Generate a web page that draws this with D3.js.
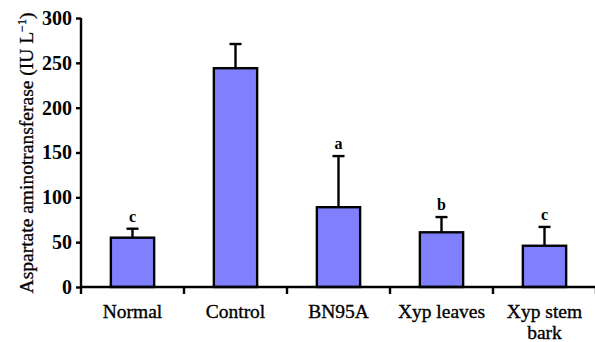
<!DOCTYPE html>
<html>
<head>
<meta charset="utf-8">
<script src="https://cdn.jsdelivr.net/npm/d3@7/dist/d3.min.js"></script>
<style>
  body { margin: 0; background: #fff; }
  svg text { font-family: "Liberation Serif", "Times New Roman", serif; }
</style>
</head>
<body>
<div id="chart"></div>
<script>
const categories = ['Normal', 'Control', 'BN95A', 'Xyp leaves', 'Xyp stem bark'];
const means = [55, 244, 89, 61, 46];
const errors = [10, 27, 57, 17, 21];
const letters = ['c', '', 'a', 'b', 'c'];
const yTicks = [0, 50, 100, 150, 200, 250, 300];

const width = 595;
const height = 342;
const padLeft = 81;
const padRight = 596;
const plotTop = 18;
const plotBottom = 287;

const svg = d3.select('#chart')
    .append('svg')
    .attr('width', width)
    .attr('height', height);

const x = d3.scaleBand()
    .domain(categories)
    .range([padLeft, padRight])
    .padding(0);

const y = d3.scaleLinear()
    .domain([0, 300])
    .range([plotBottom, plotTop]);

const barW = x.bandwidth() * 0.42;

// bars
svg.selectAll('rect.bar')
    .data(categories)
    .enter()
    .append('rect')
    .attr('class', 'bar')
    .attr('x', d => x(d) + x.bandwidth() / 2 - barW / 2)
    .attr('y', (d, i) => y(means[i]))
    .attr('width', barW)
    .attr('height', (d, i) => y(0) - y(means[i]))
    .attr('fill', '#8080ff')
    .attr('stroke', '#000')
    .attr('stroke-width', 2.4);

// error bars
const err = svg.append('g').attr('stroke', '#000').attr('stroke-width', 2.4);
categories.forEach((c, i) => {
    const cx = x(c) + x.bandwidth() / 2;
    err.append('line')
        .attr('x1', cx).attr('x2', cx)
        .attr('y1', y(means[i])).attr('y2', y(means[i] + errors[i]));
    err.append('line')
        .attr('x1', cx - 6).attr('x2', cx + 6)
        .attr('y1', y(means[i] + errors[i])).attr('y2', y(means[i] + errors[i]));
});

// letters
svg.selectAll('text.letter')
    .data(categories)
    .enter()
    .append('text')
    .attr('class', 'letter')
    .attr('x', d => x(d) + x.bandwidth() / 2)
    .attr('y', (d, i) => y(means[i] + errors[i]) - 7)
    .attr('text-anchor', 'middle')
    .attr('font-size', 16)
    .attr('font-weight', 'bold')
    .text((d, i) => letters[i]);

// y axis
const yAxis = d3.axisLeft(y)
    .tickValues(yTicks)
    .tickSize(5)
    .tickPadding(4)
    .tickSizeOuter(0);

const gy = svg.append('g')
    .attr('transform', `translate(${padLeft},0)`)
    .call(yAxis);
gy.select('.domain').attr('stroke-width', 2.4).attr('d', `M0,${plotTop}V${plotBottom + 7}`);
gy.selectAll('.tick line').attr('stroke-width', 2.4);
gy.selectAll('.tick text')
    .attr('font-size', 20)
    .attr('font-weight', 'bold')
    .attr('font-family', '"Liberation Serif", serif')
    .attr('fill', '#000');

// x axis line and boundary ticks
const gx = svg.append('g').attr('stroke', '#000').attr('stroke-width', 2.4);
gx.append('line')
    .attr('x1', padLeft).attr('x2', padRight)
    .attr('y1', y(0)).attr('y2', y(0));
categories.forEach(c => {
    const bx = x(c) + x.bandwidth();
    gx.append('line')
        .attr('x1', bx).attr('x2', bx)
        .attr('y1', y(0)).attr('y2', y(0) + 7);
});

// category labels
const labels = svg.append('g');
categories.forEach(c => {
    const cx = x(c) + x.bandwidth() / 2;
    const lines = c === 'Xyp stem bark' ? ['Xyp stem', 'bark'] : [c];
    lines.forEach((t, j) => {
        labels.append('text')
            .attr('x', cx)
            .attr('y', 318 + j * 21)
            .attr('text-anchor', 'middle')
            .attr('font-size', 19.5)
            .attr('stroke', '#000')
            .attr('stroke-width', 0.35)
            .text(t);
    });
});

// y axis title
const title = svg.append('text')
    .attr('transform', 'translate(33,153) rotate(-90)')
    .attr('text-anchor', 'middle')
    .attr('font-size', 19.5)
    .attr('stroke', '#000')
    .attr('stroke-width', 0.3);
title.append('tspan').text('Aspartate aminotransferase (IU L');
title.append('tspan').attr('dy', -7).attr('font-size', 12).text('\u22121');
title.append('tspan').attr('dy', 7).text(')');
</script>
</body>
</html>
